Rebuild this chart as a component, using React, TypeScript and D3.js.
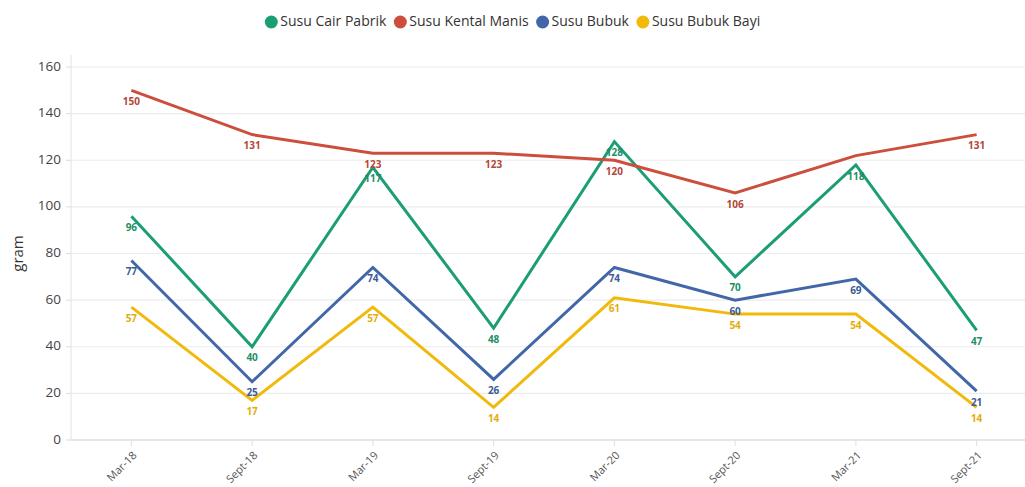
import { useMemo } from 'react'
import * as d3 from 'd3'

const categories = ['Mar-18', 'Sept-18', 'Mar-19', 'Sept-19', 'Mar-20', 'Sept-20', 'Mar-21', 'Sept-21']
const seriesNames = ['Susu Cair Pabrik', 'Susu Kental Manis', 'Susu Bubuk', 'Susu Bubuk Bayi']
const cairPabrik = [96, 40, 117, 48, 128, 70, 118, 47]
const kentalManis = [150, 131, 123, 123, 120, 106, 122, 131]
const bubuk = [77, 25, 74, 26, 74, 60, 69, 21]
const bubukBayi = [57, 17, 57, 14, 61, 54, 54, 14]
const yTicks = [0, 20, 40, 60, 80, 100, 120, 140, 160]

const lineColors = ['#1c9e74', '#cc4e3c', '#4267a9', '#f1b90a']
const labelColors = ['#1d8f68', '#b4463a', '#3d5b96', '#e3ad0c']

const W = 1025
const H = 487
const margin = { top: 67, right: 0, bottom: 47, left: 71 }
const FONT = "'Open Sans', 'Noto Sans', sans-serif"
const LEGEND_FONT = 14

function textWidth(s: string, size: number) {
  const ctx = document.createElement('canvas').getContext('2d')
  if (!ctx) return s.length * size * 0.5
  ctx.font = `${size}px 'Open Sans', 'Noto Sans', sans-serif`
  return ctx.measureText(s).width
}

export default function App() {
  const series = [cairPabrik, kentalManis, bubuk, bubukBayi]

  const { x, y, paths, labels } = useMemo(() => {
    const x = d3.scaleBand<string>().domain(categories).range([margin.left, 1037])
    const y = d3.scaleLinear().domain([0, 160]).range([H - margin.bottom, margin.top])
    const cx = (c: string) => (x(c) ?? 0) + x.bandwidth() / 2
    const line = d3
      .line<number>()
      .x((_, i) => cx(categories[i]))
      .y((d) => y(d))
    const paths = series.map((s) => line(s) || '')

    // data labels, skip ones colliding with an already placed label
    const placed: Array<{ x: number; y: number }> = []
    const labels: Array<{ x: number; y: number; text: string; color: string }> = []
    series.forEach((s, si) => {
      s.forEach((v, i) => {
        const lx = cx(categories[i])
        const ly = y(v) + 12
        const hit = placed.some((p) => Math.abs(p.x - lx) < 20 && Math.abs(p.y - ly) < 10)
        if (hit) return
        placed.push({ x: lx, y: ly })
        labels.push({ x: lx, y: ly, text: String(v), color: labelColors[si] })
      })
    })
    return { x, y, paths, labels }
  }, [])

  const cx = (c: string) => (x(c) ?? 0) + x.bandwidth() / 2
  const y0 = y(0)

  // legend layout: circle, 9px to text, 14px from text end to next circle
  const legendItems = useMemo(() => {
    const widths = seriesNames.map((n) => textWidth(n, LEGEND_FONT))
    const total = d3.sum(widths) + seriesNames.length * 9 + (seriesNames.length - 1) * 14 + 6.5
    let pos = (W - total) / 2 + 6.5
    return seriesNames.map((n, i) => {
      const item = { name: n, x: pos }
      pos += 9 + widths[i] + 14
      return item
    })
  }, [])

  return (
    <div style={{ position: 'absolute', left: 0, top: 0 }}>
      <svg width={W} height={H} style={{ display: 'block', background: '#fff' }} fontFamily={FONT}>
        {/* grid */}
        {yTicks.map((t) => (
          <g key={t}>
            <line x1={margin.left} x2={W} y1={y(t)} y2={y(t)} stroke={t === 0 ? '#dedede' : '#ececec'} strokeWidth={t === 0 ? 1.5 : 1.2} />
            <line x1={margin.left - 5} x2={margin.left} y1={y(t)} y2={y(t)} stroke="#dcdcdc" />
            <text x={margin.left - 10} y={y(t)} textAnchor="end" dominantBaseline="middle" fontSize={13.5} fill="#444">
              {t}
            </text>
          </g>
        ))}
        <line x1={margin.left} x2={margin.left} y1={margin.top - 12} y2={y0} stroke="#e2e2e2" />
        <text
          transform={`translate(19,${(margin.top + y0) / 2}) rotate(-90)`}
          textAnchor="middle"
          dominantBaseline="middle"
          fontSize={15}
          fill="#333"
        >
          gram
        </text>

        {/* x axis */}
        {categories.map((c) => (
          <g key={c}>
            <line x1={cx(c)} x2={cx(c)} y1={y0} y2={y0 + 6} stroke="#e0e0e0" />
            <text
              transform={`translate(${cx(c) + 4},${y0 + 14}) rotate(-45)`}
              textAnchor="end"
              dominantBaseline="middle"
              fontSize={11}
              fill="#555"
            >
              {c}
            </text>
          </g>
        ))}

        {/* lines */}
        {paths.map((p, i) => (
          <path key={i} d={p} fill="none" stroke={lineColors[i]} strokeWidth={3} strokeLinejoin="miter" />
        ))}

        {/* data labels */}
        {labels.map((l, i) => (
          <text
            key={i}
            x={l.x}
            y={l.y}
            textAnchor="middle"
            dominantBaseline="middle"
            fontSize={10}
            fontWeight="bold"
            fill={l.color}
          >
            {l.text}
          </text>
        ))}

        {/* legend */}
        {legendItems.map((it, i) => (
          <g key={it.name} transform={`translate(${it.x},22)`}>
            <circle cx={0} cy={0} r={6.5} fill={lineColors[i]} />
            <text x={9} y={0} dominantBaseline="middle" fontSize={LEGEND_FONT} fill="#333">
              {it.name}
            </text>
          </g>
        ))}
      </svg>
    </div>
  )
}
